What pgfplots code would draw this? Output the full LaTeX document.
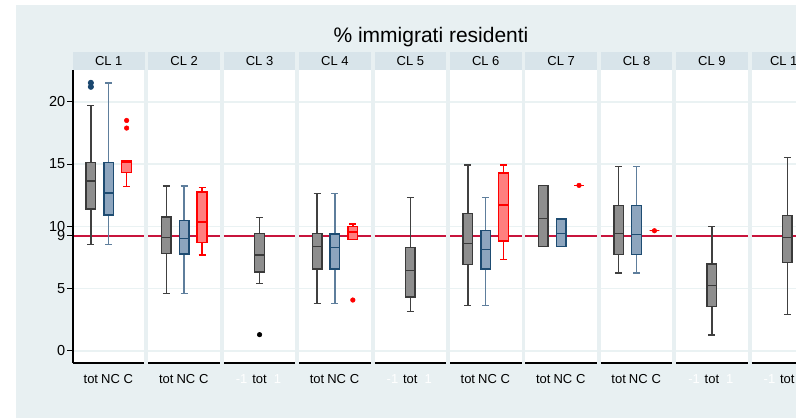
\documentclass[border=0pt]{standalone}
\usepackage{pgfplots}
\pgfplotsset{compat=1.18}
\usepgfplotslibrary{statistics}
\usepackage{fontspec}
\setmainfont{Liberation Sans}
\definecolor{bgc}{HTML}{E8F0F2}
\definecolor{hdrc}{HTML}{D8E4EA}
\definecolor{gridc}{HTML}{EAF2F3}
\definecolor{totfill}{HTML}{8E8E8E}
\definecolor{totline}{HTML}{3A3A3A}
\definecolor{totwh}{HTML}{404040}
\definecolor{ncfill}{HTML}{8DA5BE}
\definecolor{ncline}{HTML}{1E4C72}
\definecolor{ncwh}{HTML}{5E7E9C}
\definecolor{cfill}{HTML}{FF7F7F}
\definecolor{cline}{HTML}{FF0000}
\definecolor{refl}{HTML}{C8143C}
\definecolor{navy}{HTML}{1A476F}
\pgfplotsset{
  panel/.style={
    scale only axis, width=71.5pt, height=293pt, anchor=south west,
    xmin=-2, xmax=2, ymin=-0.963, ymax=22.55,
    axis line style={draw=none}, clip=false,
    ytick={0,5,10,15,20}, yticklabels={}, ymajorgrids,
    grid style={gridc, line width=1.5pt},
    xtick={-1,0.1,1.1}, xticklabels={tot,NC,C},
    major tick length=0pt, ytick pos=left, xtick pos=bottom,
    x tick style={draw=none}, y tick style={draw=none},
    xticklabel style={anchor=base, yshift=-20pt, font=\fontsize{13}{15}\selectfont},
    axis background/.style={fill=white},
  },
  single/.style={xtick={-1,0,1}, xticklabels={\textcolor{white}{-1},tot,\textcolor{white}{1}}},
  totb/.style={boxplot/draw direction=y, boxplot/box extend=0.54, boxplot/whisker extend=0.39,
    draw=totline, line width=1.4pt, mark=*, mark size=2.3pt, mark options={draw=black, fill=black, line width=0.5pt},
    boxplot/every box/.style={fill=totfill, draw=totline},
    boxplot/every whisker/.style={draw=totwh},
    boxplot/every median/.style={draw=totline}},
  ncb/.style={boxplot/draw direction=y, boxplot/box extend=0.54, boxplot/whisker extend=0.39,
    draw=ncline, line width=1.4pt, mark=*, mark size=2.3pt, mark options={draw=navy, fill=navy, line width=0.5pt},
    boxplot/every box/.style={fill=ncfill, draw=ncline},
    boxplot/every whisker/.style={draw=ncwh},
    boxplot/every median/.style={draw=ncline}},
  cb/.style={boxplot/draw direction=y, boxplot/box extend=0.54, boxplot/whisker extend=0.39,
    draw=cline, line width=1.4pt, mark=*, mark size=2.3pt, mark options={draw=cline, fill=cline, line width=0.5pt},
    boxplot/every box/.style={fill=cfill, draw=cline},
    boxplot/every whisker/.style={draw=cline},
    boxplot/every median/.style={draw=cline}},
}
\newcommand\myref{\addplot[refl, line width=1.3pt] coordinates {(-2,9.23) (2,9.23)};}
\newcommand\mybase{\draw[black, line width=1.2pt] (rel axis cs:0,0) -- (rel axis cs:1,0);}
\newcommand\myhdr[2]{\fill[hdrc] (#1pt,348pt) rectangle ++(71.5pt,18pt);
  \node[anchor=base, inner sep=0pt, font=\fontsize{13}{15}\selectfont] at ({#1pt+35.75pt},352.3pt) {#2};}
\begin{document}
\begin{tikzpicture}
\useasboundingbox (0pt,0pt) rectangle (796pt,418pt);
\clip (0pt,0pt) rectangle (796pt,418pt);
\fill[bgc] (16pt,0pt) rectangle (796pt,413pt);
\node[anchor=base, inner sep=0pt, font=\fontsize{21}{24}\selectfont] at (431pt,375pt) {\% immigrati residenti};
\myhdr{73}{CL 1}
\myhdr{148.4}{CL 2}
\myhdr{223.8}{CL 3}
\myhdr{299.2}{CL 4}
\myhdr{374.6}{CL 5}
\myhdr{450}{CL 6}
\myhdr{525.4}{CL 7}
\myhdr{600.8}{CL 8}
\myhdr{676.2}{CL 9}
\myhdr{751.6}{CL 10}

% CL 1
\begin{axis}[panel, at={(73pt,55pt)},
  yticklabels={0,5,10,15,20}, y tick style={draw=black, line width=1pt},
  tick align=outside, major tick length=6pt,
  xticklabel style={yshift=6pt},
  yticklabel style={font=\fontsize{14.5}{16}\selectfont, inner sep=1.5pt},
  extra y ticks={9.23}, extra y tick labels={{9,23}},
  extra y tick style={grid=none}]
\myref
\addplot[totb, mark options={draw=navy, fill=navy}, boxplot prepared={lower whisker=8.56, lower quartile=11.39, median=13.64, upper quartile=15.13, upper whisker=19.68, draw position=-1}] coordinates {(0,21.52) (0,21.2)};
\addplot[ncb, boxplot prepared={lower whisker=8.56, lower quartile=10.91, median=12.67, upper quartile=15.13, upper whisker=21.52, draw position=0}] coordinates {};
\addplot[cb, boxplot prepared={lower whisker=13.21, lower quartile=14.33, median=15.16, upper quartile=15.27, upper whisker=15.27, draw position=1}] coordinates {(0,18.5) (0,17.89)};
\mybase
\draw[black, line width=1.2pt] (rel axis cs:0,0) -- (rel axis cs:0,1);
\end{axis}

% CL 2
\begin{axis}[panel, at={(148.4pt,55pt)}]
\myref
\addplot[totb, boxplot prepared={lower whisker=4.63, lower quartile=7.83, median=9.12, upper quartile=10.75, upper whisker=13.24, draw position=-1}] coordinates {};
\addplot[ncb, boxplot prepared={lower whisker=4.63, lower quartile=7.78, median=9.01, upper quartile=10.45, upper whisker=13.24, draw position=0}] coordinates {};
\addplot[cb, boxplot prepared={lower whisker=7.7, lower quartile=8.69, median=10.35, upper quartile=12.75, upper whisker=13.1, draw position=1}] coordinates {};
\mybase
\end{axis}

% CL 3
\begin{axis}[panel, single, at={(223.8pt,55pt)}]
\myref
\addplot[totb, boxplot prepared={lower whisker=5.40, lower quartile=6.34, median=7.70, upper quartile=9.41, upper whisker=10.7, draw position=0}] coordinates {(0,1.31)};
\mybase
\end{axis}

% CL 4
\begin{axis}[panel, at={(299.2pt,55pt)}]
\myref
\addplot[totb, boxplot prepared={lower whisker=3.80, lower quartile=6.58, median=8.37, upper quartile=9.44, upper whisker=12.62, draw position=-1}] coordinates {};
\addplot[ncb, boxplot prepared={lower whisker=3.80, lower quartile=6.58, median=8.32, upper quartile=9.39, upper whisker=12.62, draw position=0}] coordinates {};
\addplot[cb, boxplot prepared={lower whisker=8.93, lower quartile=8.93, median=9.55, upper quartile=10.0, upper whisker=10.19, draw position=1}] coordinates {(0,4.09)};
\mybase
\end{axis}

% CL 5
\begin{axis}[panel, single, at={(374.6pt,55pt)}]
\myref
\addplot[totb, boxplot prepared={lower whisker=3.16, lower quartile=4.33, median=6.44, upper quartile=8.29, upper whisker=12.3, draw position=0}] coordinates {};
\mybase
\end{axis}

% CL 6
\begin{axis}[panel, at={(450pt,55pt)}]
\myref
\addplot[totb, boxplot prepared={lower whisker=3.64, lower quartile=6.95, median=8.64, upper quartile=11.02, upper whisker=14.92, draw position=-1}] coordinates {};
\addplot[ncb, boxplot prepared={lower whisker=3.64, lower quartile=6.58, median=8.16, upper quartile=9.68, upper whisker=12.3, draw position=0}] coordinates {};
\addplot[cb, boxplot prepared={lower whisker=7.35, lower quartile=8.82, median=11.71, upper quartile=14.28, upper whisker=14.92, draw position=1}] coordinates {};
\mybase
\end{axis}

% CL 7
\begin{axis}[panel, at={(525.4pt,55pt)}]
\myref
\addplot[totb, boxplot prepared={lower whisker=8.37, lower quartile=8.37, median=10.61, upper quartile=13.29, upper whisker=13.29, draw position=-1}] coordinates {};
\addplot[ncb, boxplot prepared={lower whisker=8.37, lower quartile=8.37, median=9.44, upper quartile=10.59, upper whisker=10.59, draw position=0}] coordinates {};
\addplot[cb, boxplot prepared={lower whisker=13.29, lower quartile=13.29, median=13.29, upper quartile=13.29, upper whisker=13.29, draw position=1}] coordinates {(0,13.29)};
\mybase
\end{axis}

% CL 8
\begin{axis}[panel, at={(600.8pt,55pt)}]
\myref
\addplot[totb, boxplot prepared={lower whisker=6.26, lower quartile=7.75, median=9.41, upper quartile=11.66, upper whisker=14.81, draw position=-1}] coordinates {};
\addplot[ncb, boxplot prepared={lower whisker=6.26, lower quartile=7.75, median=9.36, upper quartile=11.66, upper whisker=14.81, draw position=0}] coordinates {};
\addplot[cb, boxplot prepared={lower whisker=9.65, lower quartile=9.65, median=9.65, upper quartile=9.65, upper whisker=9.65, draw position=1}] coordinates {(0,9.65)};
\mybase
\end{axis}

% CL 9
\begin{axis}[panel, single, at={(676.2pt,55pt)}]
\myref
\addplot[totb, boxplot prepared={lower whisker=1.28, lower quartile=3.56, median=5.24, upper quartile=6.98, upper whisker=10.0, draw position=0}] coordinates {};
\mybase
\end{axis}

% CL 10
\begin{axis}[panel, single, at={(751.6pt,55pt)}]
\myref
\addplot[totb, boxplot prepared={lower whisker=2.94, lower quartile=7.09, median=9.12, upper quartile=10.86, upper whisker=15.53, draw position=0}] coordinates {};
\mybase
\end{axis}
\end{tikzpicture}
\end{document}
